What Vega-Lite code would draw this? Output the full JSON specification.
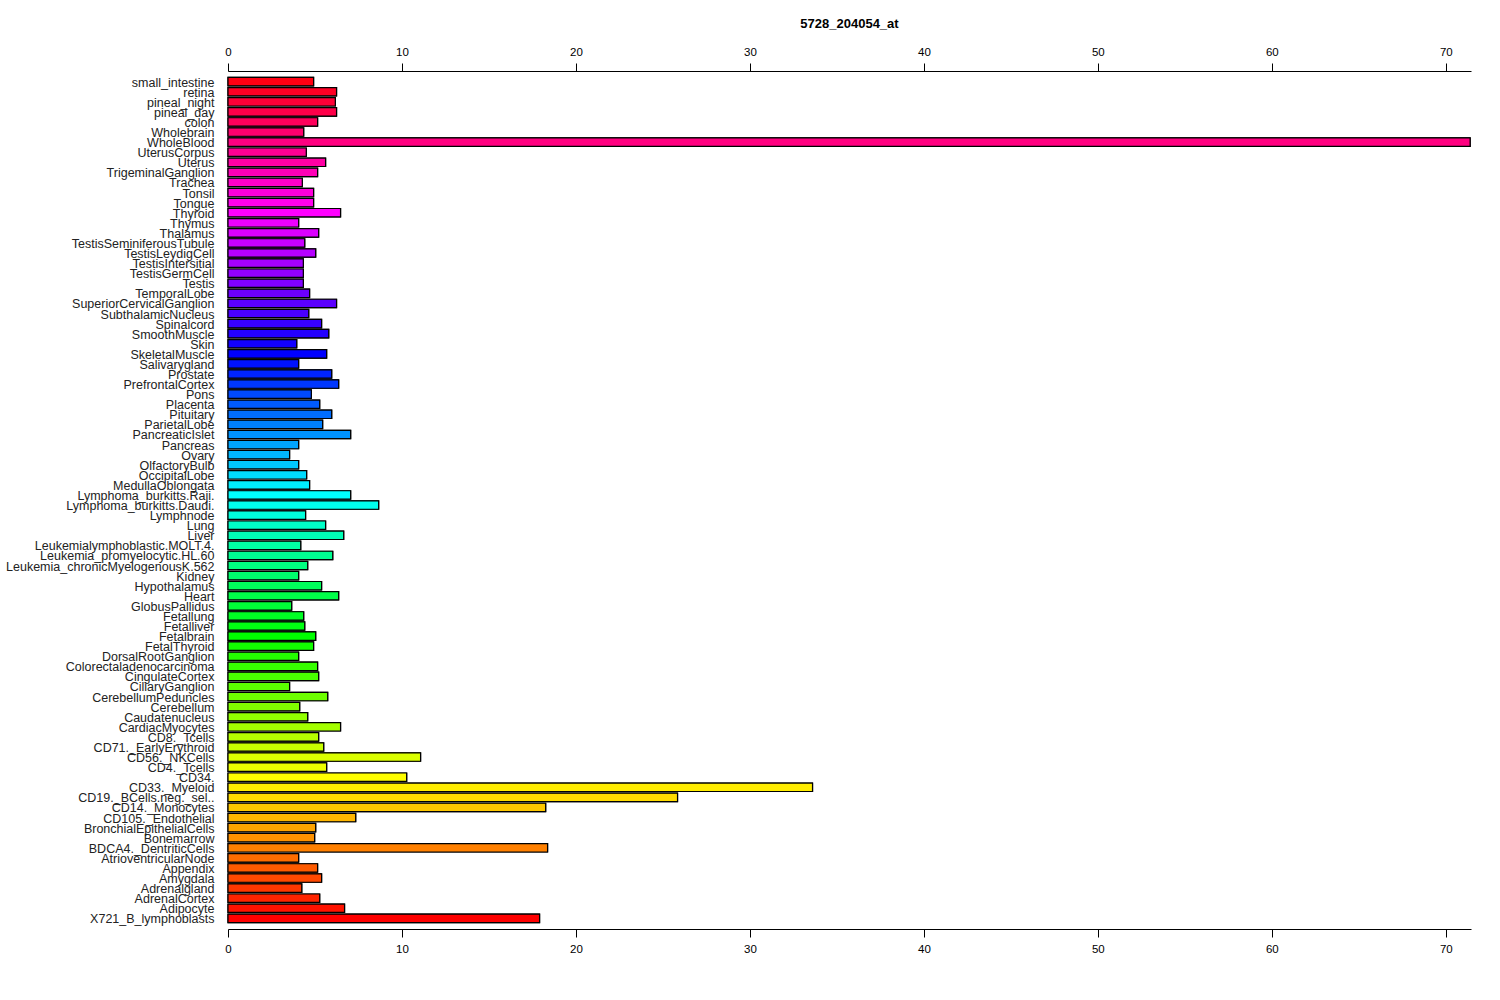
{
  "$schema": "https://vega.github.io/schema/vega-lite/v6.json",
  "width": 1243,
  "height": 858,
  "autosize": "none",
  "padding": {"left": 228, "top": 71, "right": 29, "bottom": 71},
  "background": "white",
  "title": {"text": "5728_204054_at", "font": "Liberation Sans", "fontSize": 13, "fontWeight": "bold", "color": "black", "anchor": "middle", "offset": 15},
  "data": {"values": [
    {"tissue": "small_intestine", "value": 4.92},
    {"tissue": "retina", "value": 6.24},
    {"tissue": "pineal_night", "value": 6.17},
    {"tissue": "pineal_day", "value": 6.24},
    {"tissue": "colon", "value": 5.15},
    {"tissue": "Wholebrain", "value": 4.35},
    {"tissue": "WholeBlood", "value": 71.4},
    {"tissue": "UterusCorpus", "value": 4.5},
    {"tissue": "Uterus", "value": 5.61},
    {"tissue": "TrigeminalGanglion", "value": 5.15},
    {"tissue": "Trachea", "value": 4.27},
    {"tissue": "Tonsil", "value": 4.92},
    {"tissue": "Tongue", "value": 4.92},
    {"tissue": "Thyroid", "value": 6.47},
    {"tissue": "Thymus", "value": 4.06},
    {"tissue": "Thalamus", "value": 5.21},
    {"tissue": "TestisSeminiferousTubule", "value": 4.41},
    {"tissue": "TestisLeydigCell", "value": 5.04},
    {"tissue": "TestisIntersitial", "value": 4.33},
    {"tissue": "TestisGermCell", "value": 4.33},
    {"tissue": "Testis", "value": 4.33},
    {"tissue": "TemporalLobe", "value": 4.69},
    {"tissue": "SuperiorCervicalGanglion", "value": 6.24},
    {"tissue": "SubthalamicNucleus", "value": 4.64},
    {"tissue": "Spinalcord", "value": 5.38},
    {"tissue": "SmoothMuscle", "value": 5.79},
    {"tissue": "Skin", "value": 3.95},
    {"tissue": "SkeletalMuscle", "value": 5.67},
    {"tissue": "Salivarygland", "value": 4.06},
    {"tissue": "Prostate", "value": 5.96},
    {"tissue": "PrefrontalCortex", "value": 6.36},
    {"tissue": "Pons", "value": 4.79},
    {"tissue": "Placenta", "value": 5.27},
    {"tissue": "Pituitary", "value": 5.96},
    {"tissue": "ParietalLobe", "value": 5.44},
    {"tissue": "PancreaticIslet", "value": 7.05},
    {"tissue": "Pancreas", "value": 4.06},
    {"tissue": "Ovary", "value": 3.54},
    {"tissue": "OlfactoryBulb", "value": 4.06},
    {"tissue": "OccipitalLobe", "value": 4.52},
    {"tissue": "MedullaOblongata", "value": 4.69},
    {"tissue": "Lymphoma_burkitts.Raji.", "value": 7.05},
    {"tissue": "Lymphoma_burkitts.Daudi.", "value": 8.66},
    {"tissue": "Lymphnode", "value": 4.46},
    {"tissue": "Lung", "value": 5.61},
    {"tissue": "Liver", "value": 6.65},
    {"tissue": "Leukemialymphoblastic.MOLT.4.", "value": 4.18},
    {"tissue": "Leukemia_promyelocytic.HL.60", "value": 6.02},
    {"tissue": "Leukemia_chronicMyelogenousK.562", "value": 4.58},
    {"tissue": "Kidney", "value": 4.06},
    {"tissue": "Hypothalamus", "value": 5.38},
    {"tissue": "Heart", "value": 6.36},
    {"tissue": "GlobusPallidus", "value": 3.66},
    {"tissue": "Fetallung", "value": 4.35},
    {"tissue": "Fetalliver", "value": 4.41},
    {"tissue": "Fetalbrain", "value": 5.04},
    {"tissue": "FetalThyroid", "value": 4.92},
    {"tissue": "DorsalRootGanglion", "value": 4.06},
    {"tissue": "Colorectaladenocarcinoma", "value": 5.15},
    {"tissue": "CingulateCortex", "value": 5.21},
    {"tissue": "CiliaryGanglion", "value": 3.54},
    {"tissue": "CerebellumPeduncles", "value": 5.73},
    {"tissue": "Cerebellum", "value": 4.12},
    {"tissue": "Caudatenucleus", "value": 4.58},
    {"tissue": "CardiacMyocytes", "value": 6.47},
    {"tissue": "CD8._Tcells", "value": 5.21},
    {"tissue": "CD71._EarlyErythroid", "value": 5.5},
    {"tissue": "CD56._NKCells", "value": 11.07},
    {"tissue": "CD4._Tcells", "value": 5.67},
    {"tissue": "CD34.", "value": 10.27},
    {"tissue": "CD33._Myeloid", "value": 33.6},
    {"tissue": "CD19._BCells.neg._sel..", "value": 25.84},
    {"tissue": "CD14._Monocytes", "value": 18.26},
    {"tissue": "CD105._Endothelial", "value": 7.34},
    {"tissue": "BronchialEpithelialCells", "value": 5.04},
    {"tissue": "Bonemarrow", "value": 4.98},
    {"tissue": "BDCA4._DentriticCells", "value": 18.37},
    {"tissue": "AtrioventricularNode", "value": 4.06},
    {"tissue": "Appendix", "value": 5.15},
    {"tissue": "Amygdala", "value": 5.38},
    {"tissue": "Adrenalgland", "value": 4.24},
    {"tissue": "AdrenalCortex", "value": 5.27},
    {"tissue": "Adipocyte", "value": 6.7},
    {"tissue": "X721_B_lymphoblasts", "value": 17.91}
  ]},
  "encoding": {
    "y": {
      "field": "tissue", "type": "nominal", "sort": null, "title": null,
      "scale": {"paddingInner": 0.1667, "paddingOuter": 0.64},
      "axis": {"ticks": false, "domain": false, "labelFont": "Liberation Sans", "labelFontSize": 12.5, "labelColor": "#222222", "labelPadding": 14, "labelLimit": 400, "labelOffset": 1}
    },
    "color": {
      "field": "tissue", "type": "nominal", "legend": null,
      "scale": {
        "domain": ["small_intestine","retina","pineal_night","pineal_day","colon","Wholebrain","WholeBlood","UterusCorpus","Uterus","TrigeminalGanglion","Trachea","Tonsil","Tongue","Thyroid","Thymus","Thalamus","TestisSeminiferousTubule","TestisLeydigCell","TestisIntersitial","TestisGermCell","Testis","TemporalLobe","SuperiorCervicalGanglion","SubthalamicNucleus","Spinalcord","SmoothMuscle","Skin","SkeletalMuscle","Salivarygland","Prostate","PrefrontalCortex","Pons","Placenta","Pituitary","ParietalLobe","PancreaticIslet","Pancreas","Ovary","OlfactoryBulb","OccipitalLobe","MedullaOblongata","Lymphoma_burkitts.Raji.","Lymphoma_burkitts.Daudi.","Lymphnode","Lung","Liver","Leukemialymphoblastic.MOLT.4.","Leukemia_promyelocytic.HL.60","Leukemia_chronicMyelogenousK.562","Kidney","Hypothalamus","Heart","GlobusPallidus","Fetallung","Fetalliver","Fetalbrain","FetalThyroid","DorsalRootGanglion","Colorectaladenocarcinoma","CingulateCortex","CiliaryGanglion","CerebellumPeduncles","Cerebellum","Caudatenucleus","CardiacMyocytes","CD8._Tcells","CD71._EarlyErythroid","CD56._NKCells","CD4._Tcells","CD34.","CD33._Myeloid","CD19._BCells.neg._sel..","CD14._Monocytes","CD105._Endothelial","BronchialEpithelialCells","Bonemarrow","BDCA4._DentriticCells","AtrioventricularNode","Appendix","Amygdala","Adrenalgland","AdrenalCortex","Adipocyte","X721_B_lymphoblasts"],
        "range": ["#FF0012","#FF0024","#FF0037","#FF0049","#FF005B","#FF006D","#FF0080","#FF0092","#FF00A4","#FF00B6","#FF00C8","#FF00DB","#FF00ED","#FF00FF",
                  "#ED00FF","#DB00FF","#C800FF","#B600FF","#A400FF","#9200FF","#8000FF","#6D00FF","#5B00FF","#4900FF","#3700FF","#2400FF","#1200FF","#0000FF",
                  "#0012FF","#0024FF","#0037FF","#0049FF","#005BFF","#006DFF","#0080FF","#0092FF","#00A4FF","#00B6FF","#00C8FF","#00DBFF","#00EDFF","#00FFFF",
                  "#00FFED","#00FFDB","#00FFC8","#00FFB6","#00FFA4","#00FF92","#00FF80","#00FF6D","#00FF5B","#00FF49","#00FF37","#00FF24","#00FF12","#00FF00",
                  "#12FF00","#24FF00","#37FF00","#49FF00","#5BFF00","#6DFF00","#80FF00","#92FF00","#A4FF00","#B6FF00","#C8FF00","#DBFF00","#EDFF00","#FFFF00",
                  "#FFED00","#FFDB00","#FFC800","#FFB600","#FFA400","#FF9200","#FF8000","#FF6D00","#FF5B00","#FF4900","#FF3700","#FF2400","#FF1200","#FF0000"]
      }
    }
  },
  "layer": [
    {
      "mark": {"type": "bar", "stroke": "black", "strokeWidth": 1.2, "fillOpacity": 1},
      "encoding": {
        "x": {
          "field": "value", "type": "quantitative", "title": null,
          "scale": {"domain": [0, 71.45], "nice": false, "zero": true},
          "axis": {"orient": "bottom", "values": [0,10,20,30,40,50,60,70], "grid": false, "tickSize": 8, "tickColor": "black", "domainColor": "black", "labelFont": "Liberation Sans", "labelFontSize": 11.5, "labelColor": "black", "labelPadding": 6, "labelFlush": false}
        }
      }
    },
    {
      "mark": {"type": "bar", "stroke": "black", "strokeWidth": 1.2, "fillOpacity": 1},
      "encoding": {
        "x": {
          "field": "value", "type": "quantitative", "title": null,
          "scale": {"domain": [0, 71.45], "nice": false, "zero": true},
          "axis": {"orient": "top", "values": [0,10,20,30,40,50,60,70], "grid": false, "tickSize": 8, "tickColor": "black", "domainColor": "black", "labelFont": "Liberation Sans", "labelFontSize": 11.5, "labelColor": "black", "labelPadding": 6, "labelFlush": false}
        }
      }
    }
  ],
  "resolve": {"axis": {"x": "independent"}},
  "config": {"view": {"stroke": null}}
}
